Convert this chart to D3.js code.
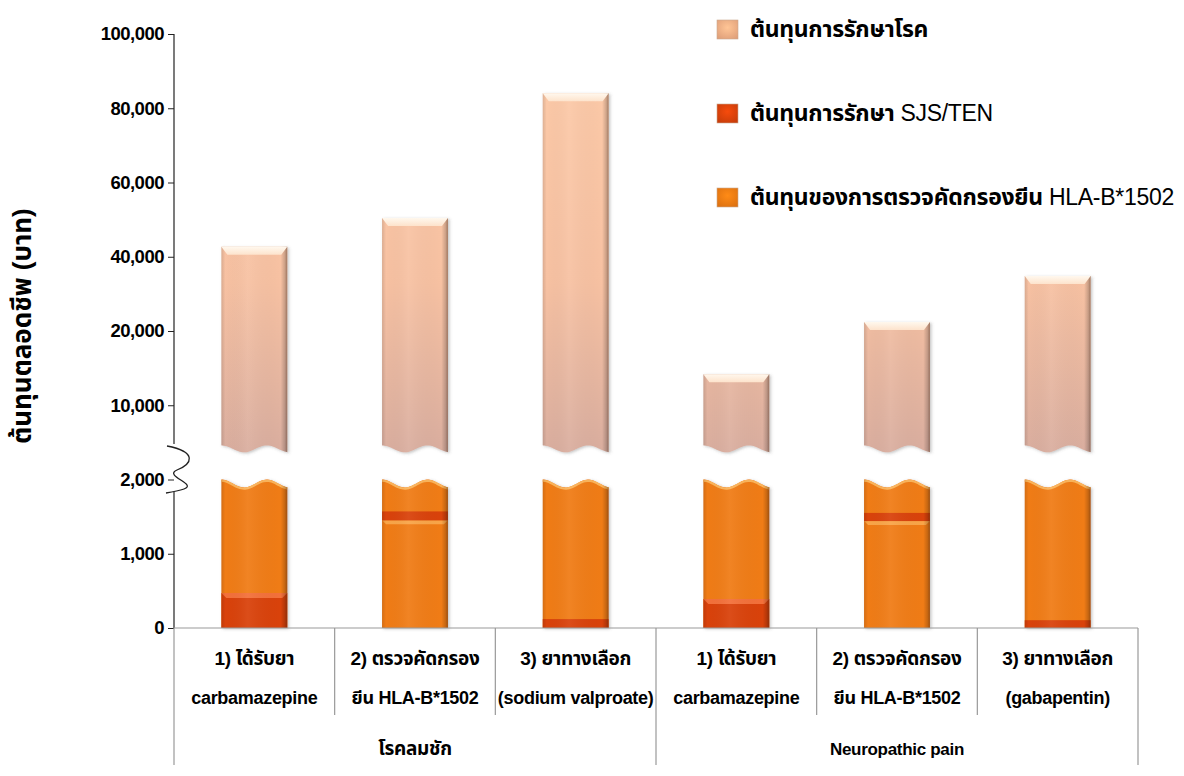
<!DOCTYPE html>
<html>
<head>
<meta charset="utf-8">
<script src="https://cdn.jsdelivr.net/npm/d3@7"></script>
<style>
  html, body { margin: 0; padding: 0; background: #fff; }
  svg { display: block; }
  text { font-family: "Liberation Sans", Arial, "Noto Sans Thai", "Noto Sans", sans-serif; }
</style>
</head>
<body>
<svg id="chart" width="1184" height="776"></svg>
<script>
// ---------------- DATA ----------------
const labelLine1 = ["1) ได้รับยา", "2) ตรวจคัดกรอง", "3) ยาทางเลือก", "1) ได้รับยา", "2) ตรวจคัดกรอง", "3) ยาทางเลือก"];
const labelLine2 = ["carbamazepine", "ยีน HLA-B*1502", "(sodium valproate)", "carbamazepine", "ยีน HLA-B*1502", "(gabapentin)"];
const groupNames = ["โรคลมชัก", "Neuropathic pain"];
const groupOf = [0, 0, 0, 1, 1, 1];
const screeningCost = [0, 1450, 0, 0, 1440, 0];         // ต้นทุนของการตรวจคัดกรองยีน HLA-B*1502
const sjsCost = [470, 120, 120, 390, 110, 105];          // ต้นทุนการรักษา SJS/TEN
const diseaseCost = [42200, 48900, 83900, 13800, 20900, 34700]; // ต้นทุนการรักษาโรค
const yTickValues = [0, 1000, 2000, 10000, 20000, 40000, 60000, 80000, 100000];
const breakLow = 2000;    // lower panel ends here
const breakHigh = 5300;   // upper panel starts here
const legendLabels = [
  ["ต้นทุนการรักษาโรค", ""],
  ["ต้นทุนการรักษา", " SJS/TEN"],
  ["ต้นทุนของการตรวจคัดกรองยีน", " HLA-B*1502"]
];
const yTitle = "ต้นทุนตลอดชีพ  (บาท)";

// ---------------- LAYOUT ----------------
const svg = d3.select("#chart");
const plotLeft = 174, plotRight = 1138, plotTop = 34, plotBottom = 628;
const idx = d3.range(labelLine1.length);

const x = d3.scaleBand().domain(idx).range([plotLeft, plotRight]).paddingInner(0.59).paddingOuter(0.295);
const step = (plotBottom - plotTop) / (yTickValues.length - 1);
const y = d3.scaleLinear().domain(yTickValues).range(yTickValues.map((d, i) => plotBottom - i * step));

const colors = {
  disease: "#F9C4A5",
  sjs: "#D9420B",
  screening: "#F07B13"
};

// ---------------- DEFS ----------------
const defs = svg.append("defs");
const gPeach = defs.append("linearGradient").attr("id", "gPeach").attr("gradientUnits", "userSpaceOnUse")
  .attr("x1", 0).attr("x2", 0).attr("y1", plotTop).attr("y2", y(breakHigh));
gPeach.append("stop").attr("offset", 0).attr("stop-color", "#FDCBA9");
gPeach.append("stop").attr("offset", 0.6).attr("stop-color", "#F7C1A2");
gPeach.append("stop").attr("offset", 1).attr("stop-color", "#DAAE9F");

const gEdge = defs.append("linearGradient").attr("id", "gEdge").attr("x1", 0).attr("x2", 1).attr("y1", 0).attr("y2", 0);
gEdge.append("stop").attr("offset", 0).attr("stop-color", "#000").attr("stop-opacity", 0.12);
gEdge.append("stop").attr("offset", 0.06).attr("stop-color", "#000").attr("stop-opacity", 0.0);
gEdge.append("stop").attr("offset", 0.4).attr("stop-color", "#fff").attr("stop-opacity", 0.06);
gEdge.append("stop").attr("offset", 0.9).attr("stop-color", "#000").attr("stop-opacity", 0.0);
gEdge.append("stop").attr("offset", 0.965).attr("stop-color", "#000").attr("stop-opacity", 0.18);
gEdge.append("stop").attr("offset", 1).attr("stop-color", "#402010").attr("stop-opacity", 0.45);

const gCream = defs.append("linearGradient").attr("id", "gCream").attr("x1", 0).attr("x2", 0).attr("y1", 0).attr("y2", 1);
gCream.append("stop").attr("offset", 0).attr("stop-color", "#FFF8EE");
gCream.append("stop").attr("offset", 1).attr("stop-color", "#FDE3CC");

const f = defs.append("filter").attr("id", "shadow").attr("x", "-20%").attr("y", "-5%").attr("width", "140%").attr("height", "110%");
f.append("feDropShadow").attr("dx", 1.5).attr("dy", 1).attr("stdDeviation", 1.6).attr("flood-color", "#555").attr("flood-opacity", 0.35);

// legend swatch gradients
function swatchGrad(id, c) {
  const g = defs.append("radialGradient").attr("id", id).attr("cx", 0.5).attr("cy", 0.4).attr("r", 0.7);
  g.append("stop").attr("offset", 0).attr("stop-color", d3.color(c).brighter(0.35));
  g.append("stop").attr("offset", 1).attr("stop-color", d3.color(c).darker(0.25));
}
swatchGrad("swD", "#F4AE84");
swatchGrad("swS", colors.sjs);
swatchGrad("swC", colors.screening);

// wave helper
function wavePoints(x0, w, mid, A) {
  const pts = [];
  for (let t = 0; t <= 1.0001; t += 0.04) {
    pts.push([x0 + t * w, mid - A * Math.cos(2 * Math.PI * t / 0.69)]);
  }
  return pts;
}
const line = d3.line().curve(d3.curveBasis);

// ---------------- BARS ----------------
const bw = x.bandwidth();
const bars = svg.append("g");
idx.forEach(i => {
  const x0 = x(i);
  const g = bars.append("g");
  // ---- upper panel (disease cost, peach) ----
  const total = screeningCost[i] + sjsCost[i] + diseaseCost[i];
  const yTop = y(total);
  const upMid = y(breakHigh);
  const wU = wavePoints(x0, bw, upMid, 3.5);
  const upPath = `M${x0},${yTop}L${x0 + bw},${yTop}L${x0 + bw},${wU[wU.length - 1][1]}` +
    line(wU.slice().reverse()).replace(/^M/, "L") + "Z";
  g.append("path").attr("d", upPath).attr("fill", "url(#gPeach)").attr("filter", "url(#shadow)");
  g.append("path").attr("d", upPath).attr("fill", "url(#gEdge)");
  // top bevel
  g.append("path")
    .attr("d", `M${x0},${yTop}L${x0 + bw},${yTop}L${x0 + bw - 6},${yTop + 8}L${x0 + 6},${yTop + 8}Z`)
    .attr("fill", "url(#gCream)");

  // ---- lower panel ----
  const loMid = y(breakLow) + 4;
  const wL = wavePoints(x0, bw, loMid, 4);
  const loPath = `M${x0},${y(0)}L${x0 + bw},${y(0)}L${x0 + bw},${wL[wL.length - 1][1]}` +
    line(wL.slice().reverse()).replace(/^M/, "L") + "Z";
  g.append("path").attr("d", loPath).attr("fill", colors.screening).attr("filter", "url(#shadow)");
  // highlight on wavy top
  g.append("path").attr("d", line(wL.map(p => [p[0], p[1] + 1.2])))
    .attr("fill", "none").attr("stroke", "#FBB45A").attr("stroke-width", 2.2);

  // screening top highlight (when present)
  if (screeningCost[i] > 0) {
    const ys = y(screeningCost[i]);
    g.append("path")
      .attr("d", `M${x0},${ys}L${x0 + bw},${ys}L${x0 + bw - 4},${ys + 4}L${x0 + 4},${ys + 4}Z`)
      .attr("fill", "#F9A548");
  }
  // SJS segment
  const s0 = y(screeningCost[i]), s1 = y(screeningCost[i] + sjsCost[i]);
  g.append("rect").attr("x", x0).attr("y", s1).attr("width", bw).attr("height", s0 - s1).attr("fill", colors.sjs);
  if (screeningCost[i] === 0 && (s0 - s1) > 15) {
    g.append("path")
      .attr("d", `M${x0},${s1}L${x0 + bw},${s1}L${x0 + bw - 5},${s1 + 5}L${x0 + 5},${s1 + 5}Z`)
      .attr("fill", "#F3703A");
  }
  // edge shading over lower bar
  g.append("path").attr("d", loPath).attr("fill", "url(#gEdge)");
});

// ---------------- Y AXIS ----------------
const yAxis = d3.axisLeft(y).tickValues(yTickValues).tickFormat(d3.format(",")).tickSize(6).tickPadding(4);
const ya = svg.append("g").attr("transform", `translate(${plotLeft},0)`).call(yAxis);
ya.select(".domain").remove();
ya.selectAll(".tick line").attr("stroke", "#222");
ya.selectAll(".tick text").attr("font-size", 18.5).attr("font-weight", "bold").attr("fill", "#000")
  .attr("letter-spacing", "-0.5");
// axis line with break
svg.append("line").attr("x1", plotLeft).attr("x2", plotLeft).attr("y1", plotTop).attr("y2", 444).attr("stroke", "#222").attr("stroke-width", 1.2);
svg.append("line").attr("x1", plotLeft).attr("x2", plotLeft).attr("y1", 492).attr("y2", plotBottom).attr("stroke", "#222").attr("stroke-width", 1.2);
svg.append("path")
  .attr("d", "M167,446 C198,452 192,464 177,470 C163,476 198,484 184,489 C178,491 172,492 166,493")
  .attr("fill", "none").attr("stroke", "#222").attr("stroke-width", 1.3);

// y title
svg.append("text")
  .attr("transform", `translate(31,${326}) rotate(-90)`)
  .attr("text-anchor", "middle")
  .attr("font-size", 26).attr("font-weight", "bold")
  .text(yTitle);

// ---------------- X AXIS ----------------
const xa = svg.append("g");
xa.append("line").attr("x1", plotLeft).attr("x2", plotRight).attr("y1", plotBottom).attr("y2", plotBottom)
  .attr("stroke", "#999").attr("stroke-width", 1.2);
const stepX = x.step();
d3.range(idx.length + 1).forEach(k => {
  const xx = plotLeft + k * stepX;
  const isGroupEdge = (k === 0 || k === idx.length || groupOf[k] !== groupOf[k - 1]);
  xa.append("line").attr("x1", xx).attr("x2", xx).attr("y1", plotBottom)
    .attr("y2", isGroupEdge ? 765 : 715).attr("stroke", "#999").attr("stroke-width", 1.2);
});
idx.forEach(i => {
  const cx = x(i) + bw / 2;
  xa.append("text").attr("x", cx).attr("y", 665).attr("text-anchor", "middle")
    .attr("font-size", 19).attr("font-weight", "bold").attr("letter-spacing", "-0.3").text(labelLine1[i]);
  xa.append("text").attr("x", cx).attr("y", 704).attr("text-anchor", "middle")
    .attr("font-size", 18).attr("font-weight", "bold").attr("letter-spacing", "-0.3").text(labelLine2[i]);
});
groupNames.forEach((gname, gi) => {
  const members = idx.filter(i => groupOf[i] === gi);
  const left = plotLeft + members[0] * stepX;
  const right = plotLeft + (members[members.length - 1] + 1) * stepX;
  xa.append("text").attr("x", (left + right) / 2).attr("y", 755).attr("text-anchor", "middle")
    .attr("font-size", gi === 0 ? 19 : 17).attr("font-weight", "bold").attr("letter-spacing", "-0.3").text(gname);
});

// ---------------- LEGEND ----------------
const legendY = [29, 113, 197];
const swatches = ["url(#swD)", "url(#swS)", "url(#swC)"];
const lg = svg.append("g");
legendLabels.forEach((lab, k) => {
  lg.append("rect").attr("x", 717).attr("y", legendY[k] - 9).attr("width", 21).attr("height", 19)
    .attr("fill", swatches[k]).attr("stroke", "#c9a890").attr("stroke-width", 0.6);
  const t = lg.append("text").attr("x", 750).attr("y", legendY[k] + 8).attr("font-size", 23).attr("letter-spacing", "-0.3");
  t.append("tspan").attr("font-weight", "bold").text(lab[0]);
  if (lab[1]) t.append("tspan").text(lab[1]);
});
</script>
</body>
</html>
